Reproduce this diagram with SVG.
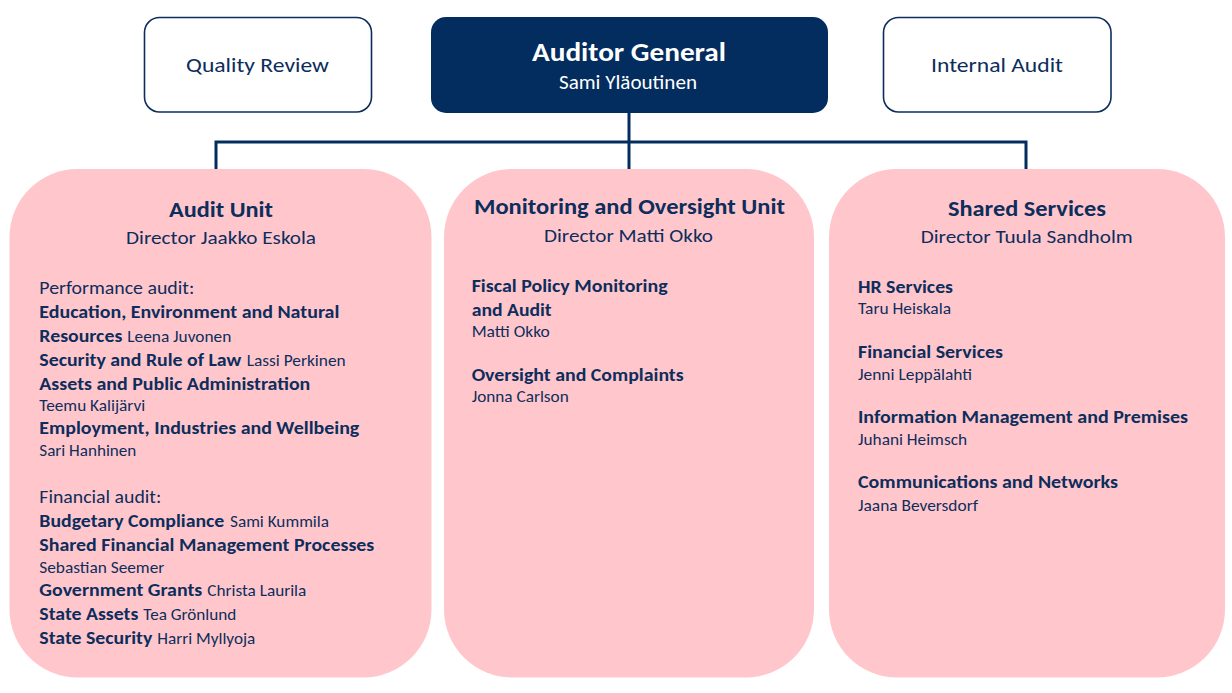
<svg xmlns="http://www.w3.org/2000/svg" width="1232" height="693" viewBox="0 0 1232 693">
<style>
text{font-family:Calibri,Carlito,"Liberation Sans",Arial,sans-serif;fill:#0d2d5c}
.side{fill:#fff;stroke:#0d2d5c;stroke-width:1.6}
.unit{fill:#ffc7cc}
.t{font-size:26px;font-weight:bold;fill:#fff}
.st{font-size:19.5px;fill:#fff}
.q{font-size:20px}
.h{font-size:22px;font-weight:bold}
.d{font-size:19px}
.s{font-size:18px;font-weight:bold}
.c{font-size:19px}
.n{font-size:16px}
.conn{fill:none;stroke:#022d5e;stroke-width:3}
</style>
<g id="connectors">
<path class="conn" d="M629 112V142M216 142H1026M216 140.5V169M629 142V169M1026 140.5V169"/>
</g>
<g id="quality-review">
<rect class="side" x="144.5" y="17.5" width="227" height="94.5" rx="15"/>
<text class="q" x="186" y="72" textLength="143" lengthAdjust="spacingAndGlyphs">Quality Review</text>
</g>
<g id="auditor-general">
<rect x="431" y="17" width="397" height="96" rx="15" fill="#022d5e"/>
<text class="t" x="532" y="61" textLength="194" lengthAdjust="spacingAndGlyphs">Auditor General</text>
<text class="st" x="559" y="89.3" textLength="138" lengthAdjust="spacingAndGlyphs">Sami Yläoutinen</text>
</g>
<g id="internal-audit">
<rect class="side" x="883.5" y="17.5" width="227.5" height="94.5" rx="15"/>
<text class="q" x="931" y="72" textLength="132" lengthAdjust="spacingAndGlyphs">Internal Audit</text>
</g>
<g id="audit-unit">
<rect class="unit" x="9.5" y="169" width="422" height="508.5" rx="68"/>
<text class="h" x="169" y="217" textLength="104" lengthAdjust="spacingAndGlyphs">Audit Unit</text>
<text class="d" x="126" y="244" textLength="190" lengthAdjust="spacingAndGlyphs">Director Jaakko Eskola</text>
<text class="c" x="39.3" y="294" textLength="155" lengthAdjust="spacingAndGlyphs">Performance audit:</text>
<text class="s" x="39.3" y="318.3" textLength="300" lengthAdjust="spacingAndGlyphs">Education, Environment and Natural</text>
<text class="s" x="39.3" y="342" textLength="83" lengthAdjust="spacingAndGlyphs">Resources</text>
<text class="n" x="127.3" y="342" textLength="104" lengthAdjust="spacingAndGlyphs">Leena Juvonen</text>
<text class="s" x="39.3" y="366" textLength="202" lengthAdjust="spacingAndGlyphs">Security and Rule of Law</text>
<text class="n" x="246.7" y="366" textLength="99" lengthAdjust="spacingAndGlyphs">Lassi Perkinen</text>
<text class="s" x="39.3" y="389.7" textLength="271" lengthAdjust="spacingAndGlyphs">Assets and Public Administration</text>
<text class="n" x="39.3" y="410.7" textLength="106" lengthAdjust="spacingAndGlyphs">Teemu Kalijärvi</text>
<text class="s" x="39.3" y="434" textLength="320" lengthAdjust="spacingAndGlyphs">Employment, Industries and Wellbeing</text>
<text class="n" x="39.3" y="456" textLength="97" lengthAdjust="spacingAndGlyphs">Sari Hanhinen</text>
<text class="c" x="39.3" y="502.7" textLength="122" lengthAdjust="spacingAndGlyphs">Financial audit:</text>
<text class="s" x="39.3" y="526.7" textLength="185" lengthAdjust="spacingAndGlyphs">Budgetary Compliance</text>
<text class="n" x="230" y="526.7" textLength="99" lengthAdjust="spacingAndGlyphs">Sami Kummila</text>
<text class="s" x="39.3" y="550.7" textLength="335" lengthAdjust="spacingAndGlyphs">Shared Financial Management Processes</text>
<text class="n" x="39.3" y="573.3" textLength="125" lengthAdjust="spacingAndGlyphs">Sebastian Seemer</text>
<text class="s" x="39.3" y="596" textLength="163" lengthAdjust="spacingAndGlyphs">Government Grants</text>
<text class="n" x="207.3" y="596" textLength="99" lengthAdjust="spacingAndGlyphs">Christa Laurila</text>
<text class="s" x="39.3" y="620" textLength="99" lengthAdjust="spacingAndGlyphs">State Assets</text>
<text class="n" x="143.3" y="620" textLength="93" lengthAdjust="spacingAndGlyphs">Tea Grönlund</text>
<text class="s" x="39.3" y="644" textLength="113" lengthAdjust="spacingAndGlyphs">State Security</text>
<text class="n" x="157.3" y="644" textLength="98" lengthAdjust="spacingAndGlyphs">Harri Myllyoja</text>
</g>
<g id="monitoring-unit">
<rect class="unit" x="444" y="169" width="370" height="508.5" rx="68"/>
<text class="h" x="474" y="214.3" textLength="311" lengthAdjust="spacingAndGlyphs">Monitoring and Oversight Unit</text>
<text class="d" x="544" y="241.7" textLength="169" lengthAdjust="spacingAndGlyphs">Director Matti Okko</text>
<text class="s" x="471.7" y="291.7" textLength="196" lengthAdjust="spacingAndGlyphs">Fiscal Policy Monitoring</text>
<text class="s" x="471.7" y="315.7" textLength="80" lengthAdjust="spacingAndGlyphs">and Audit</text>
<text class="n" x="471.7" y="336.7" textLength="78" lengthAdjust="spacingAndGlyphs">Matti Okko</text>
<text class="s" x="471.7" y="381" textLength="212" lengthAdjust="spacingAndGlyphs">Oversight and Complaints</text>
<text class="n" x="471.7" y="402.3" textLength="97" lengthAdjust="spacingAndGlyphs">Jonna Carlson</text>
</g>
<g id="shared-services">
<rect class="unit" x="829" y="169" width="396" height="508.5" rx="68"/>
<text class="h" x="948" y="215.7" textLength="158" lengthAdjust="spacingAndGlyphs">Shared Services</text>
<text class="d" x="920.7" y="243" textLength="212" lengthAdjust="spacingAndGlyphs">Director Tuula Sandholm</text>
<text class="s" x="858" y="292.7" textLength="95" lengthAdjust="spacingAndGlyphs">HR Services</text>
<text class="n" x="858" y="314" textLength="93" lengthAdjust="spacingAndGlyphs">Taru Heiskala</text>
<text class="s" x="858" y="357.7" textLength="145" lengthAdjust="spacingAndGlyphs">Financial Services</text>
<text class="n" x="858" y="380" textLength="114" lengthAdjust="spacingAndGlyphs">Jenni Leppälahti</text>
<text class="s" x="858" y="423.3" textLength="330" lengthAdjust="spacingAndGlyphs">Information Management and Premises</text>
<text class="n" x="858" y="445" textLength="109" lengthAdjust="spacingAndGlyphs">Juhani Heimsch</text>
<text class="s" x="858" y="488.3" textLength="260" lengthAdjust="spacingAndGlyphs">Communications and Networks</text>
<text class="n" x="858" y="510.7" textLength="120" lengthAdjust="spacingAndGlyphs">Jaana Beversdorf</text>
</g>
</svg>
